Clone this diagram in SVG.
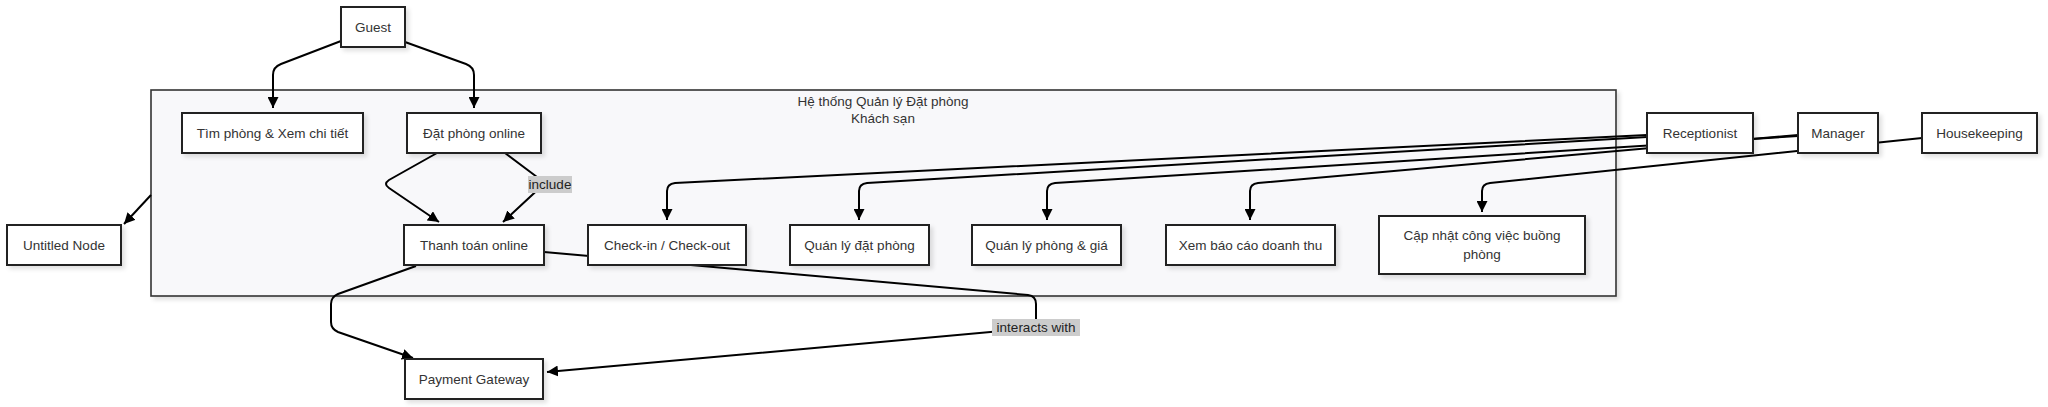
<svg xmlns="http://www.w3.org/2000/svg" width="2048" height="407" viewBox="0 0 2048 407">
<defs>
<marker id="arrow" viewBox="0 0 10 10" refX="10" refY="5" markerUnits="userSpaceOnUse" markerWidth="11" markerHeight="11" orient="auto">
<path d="M0,0 L10,5 L0,10 z" fill="#000"/>
</marker>
<filter id="sh" x="-10%" y="-10%" width="130%" height="140%">
<feDropShadow dx="3" dy="3" stdDeviation="2" flood-color="#000" flood-opacity="0.12"/>
</filter>
</defs>
<style>
.node rect{fill:#fff;stroke:#222;stroke-width:2;filter:url(#sh)}
.cluster rect{fill:#f8f8fa;stroke:#333;stroke-width:1.6;filter:url(#sh)}
text{font-family:"Liberation Sans",Arial,sans-serif;font-size:13.5px;fill:#333;text-anchor:middle;dominant-baseline:central}
.edges path{fill:none;stroke:#000;stroke-width:2;marker-end:url(#arrow)}
.edges path.plain{marker-end:none}
.lbl rect{fill:#cccccc}
.lbl text{fill:#222}
</style>
<rect width="2048" height="407" fill="#fff"/>
<g id="cluster" class="cluster">
<rect x="151" y="90" width="1465" height="206"/>
<text x="883" y="101">Hệ thống Quản lý Đặt phòng</text>
<text x="883" y="118">Khách sạn</text>
</g>
<g id="connectors" class="edges">
<path d="M341,41 L281,64 Q273,67 273,75 L273,108"/>
<path d="M405,42 L466,64 Q474,67 474,75 L474,108"/>
<path d="M437,153 L389,180 Q383,184 389,188 L439,222"/>
<path d="M505,153 L545,183 L503,222"/>
<path d="M416,266 L338,294 Q331,297 331,304 L331,322 Q331,329 338,332 L413,358"/>
<path d="M544,252 L1028,295 Q1036,296 1036,304 L1036,328 L547,372"/>
<path d="M151,195 L124,224"/>
<path d="M1647,135 L675,183 Q667,184 667,191 L667,220"/>
<path d="M1647,137 L867,183 Q859,184 859,191 L859,220"/>
<path d="M1798,136 L1055,183 Q1047,184 1047,191 L1047,220"/>
<path d="M1798,135 L1258,183 Q1250,184 1250,191 L1250,220"/>
<path d="M1922,138 L1490,183 Q1482,184 1482,191 L1482,212"/>
</g>
<g id="label-include" class="lbl">
<rect x="528" y="176" width="44" height="17"/>
<text x="550" y="184.5">include</text>
</g>
<g id="label-interacts" class="lbl">
<rect x="992" y="319" width="88" height="17"/>
<text x="1036" y="327.5">interacts with</text>
</g>
<g id="guest" class="node"><rect x="341" y="7" width="64" height="40"/><text x="373" y="27">Guest</text></g>
<g id="tim-phong" class="node"><rect x="182" y="113" width="181" height="40"/><text x="272.5" y="133">Tìm phòng &amp; Xem chi tiết</text></g>
<g id="dat-phong" class="node"><rect x="407" y="113" width="134" height="40"/><text x="474" y="133">Đặt phòng online</text></g>
<g id="thanh-toan" class="node"><rect x="404" y="225" width="140" height="40"/><text x="474" y="245">Thanh toán online</text></g>
<g id="check-in" class="node"><rect x="588" y="225" width="158" height="40"/><text x="667" y="245">Check-in / Check-out</text></g>
<g id="ql-dat-phong" class="node"><rect x="790" y="225" width="139" height="40"/><text x="859.5" y="245">Quán lý đặt phòng</text></g>
<g id="ql-phong-gia" class="node"><rect x="972" y="225" width="149" height="40"/><text x="1046.5" y="245">Quán lý phòng &amp; giá</text></g>
<g id="xem-bao-cao" class="node"><rect x="1166" y="225" width="169" height="40"/><text x="1250.5" y="245">Xem báo cáo doanh thu</text></g>
<g id="cap-nhat" class="node"><rect x="1379" y="216" width="206" height="58"/><text x="1482" y="235">Cập nhật công việc buồng</text><text x="1482" y="254">phòng</text></g>
<g id="untitled" class="node"><rect x="7" y="225" width="114" height="40"/><text x="64" y="245">Untitled Node</text></g>
<g id="payment" class="node"><rect x="405" y="359" width="138" height="40"/><text x="474" y="379">Payment Gateway</text></g>
<g id="receptionist" class="node"><rect x="1647" y="113" width="106" height="40"/><text x="1700" y="133">Receptionist</text></g>
<g id="manager" class="node"><rect x="1798" y="113" width="80" height="40"/><text x="1838" y="133">Manager</text></g>
<g id="housekeeping" class="node"><rect x="1922" y="113" width="115" height="40"/><text x="1979.5" y="133">Housekeeping</text></g>
</svg>
